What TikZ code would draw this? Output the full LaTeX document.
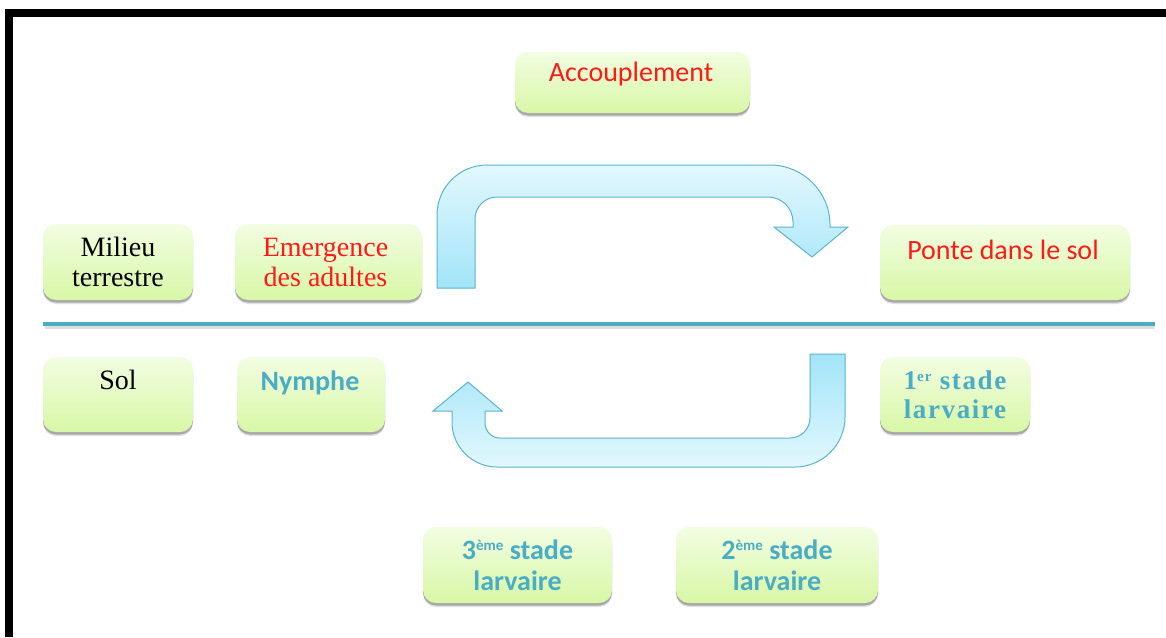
\documentclass[tikz,border=0pt]{standalone}
\usepackage{fontspec}
\setmainfont{Liberation Serif}
\newfontfamily\calfont{Carlito}
\newfontfamily\serfont{Liberation Serif}
\usetikzlibrary{shadows}
\definecolor{boxtop}{HTML}{F2FDE2}
\definecolor{boxbot}{HTML}{D8F7A6}
\definecolor{arrlight}{HTML}{E2F8FD}
\definecolor{arrdark}{HTML}{A2E4F8}
\definecolor{arredge}{HTML}{5AB4CF}
\definecolor{tealtxt}{HTML}{4BACC6}
\definecolor{redtxt}{HTML}{FF1A1A}
\definecolor{sepline}{HTML}{4BACC6}
\tikzset{
  box/.style={rounded corners=13pt, top color=boxtop, bottom color=boxbot, draw=none,
    general shadow={shadow xshift=0pt, shadow yshift=-4pt, opacity=0.12, fill=black},
    drop shadow={shadow xshift=0pt, shadow yshift=-2.5pt, opacity=0.25, fill=black}, inner sep=0pt},
  caltxt/.style={font=\calfont\fontsize{28}{31}\selectfont, align=center, inner sep=0pt},
  calbold/.style={font=\calfont\bfseries\fontsize{28}{31}\selectfont, align=center, inner sep=0pt},
  sertxt/.style={font=\serfont\fontsize{28}{30}\selectfont, align=center, inner sep=0pt},
  serbold/.style={font=\serfont\bfseries\fontsize{27}{29}\selectfont, align=center, inner sep=0pt},
  uarrow/.style={draw=arredge, line width=1pt, line join=miter}
}
\newcommand{\supsc}[1]{\raisebox{0.65ex}{\fontsize{15}{15}\selectfont #1}}
\begin{document}
\begin{tikzpicture}[x=1pt,y=-1pt]
\useasboundingbox (0,0) rectangle (1166,637);
\fill[white] (0,0) rectangle (1166,637);
% frame
\fill[black] (5,9) rectangle (1166,17);
\fill[black] (5,9) rectangle (13,637);

% boxes
\node[box, minimum width=235pt, minimum height=61pt] (acc) at (632.5,82.5) {};
\node[box, minimum width=150pt, minimum height=76pt] (mil) at (118,262) {};
\node[box, minimum width=187pt, minimum height=76pt] (eme) at (328.5,262) {};
\node[box, minimum width=250pt, minimum height=75pt] (pon) at (1005,262.5) {};
\node[box, minimum width=150pt, minimum height=75pt] (sol) at (118,394.5) {};
\node[box, minimum width=148pt, minimum height=75pt] (nym) at (311,394.5) {};
\node[box, minimum width=150pt, minimum height=75pt] (st1) at (955,394.5) {};
\node[box, minimum width=189pt, minimum height=76pt] (st3) at (517.5,565) {};
\node[box, minimum width=202pt, minimum height=76pt] (st2) at (777,565) {};

% texts
\node[caltxt, text=redtxt] (acct) at (631,74) {Accouplement};
\node[sertxt, text=black] (milt) at (mil) {Milieu\\terrestre};
\node[sertxt, text=redtxt] (emet) at ([xshift=-3pt]eme.center) {Emergence\\des adultes};
\node[caltxt, text=redtxt] (pont) at (1003,250) {Ponte dans le sol};
\node[sertxt, text=black] (solt) at (118,380) {Sol};
\node[calbold, text=tealtxt] (nymt) at (310,383) {Nymphe};
\node[serbold, text=tealtxt] (st1t) at (st1) {\addfontfeatures{LetterSpace=6}1\supsc{er} stade\\\addfontfeatures{LetterSpace=6}larvaire};
\node[calbold, text=tealtxt] (st3t) at (st3) {3\supsc{ème} stade\\larvaire};
\node[calbold, text=tealtxt] (st2t) at (st2) {2\supsc{ème} stade\\larvaire};

% separator line
\draw[line width=3pt, black!25, opacity=0.5] (45,327.5) -- (1155,327.5);
\draw[line width=4pt, sepline] (43,324) -- (1155,324);

% upper U-turn arrow
\path[uarrow, top color=arrlight, bottom color=arrdark]
  (437,288) -- (437,215)
  .. controls (437,187.4) and (459.4,165) .. (487,165)
  -- (770,165)
  .. controls (803.1,165) and (830,191.9) .. (830,225)
  -- (830,227) -- (848,227) -- (812,257) -- (774,227) -- (793,227)
  -- (793,222)
  .. controls (793,208.2) and (781.8,197) .. (768,197)
  -- (497,197)
  .. controls (484.9,197) and (475,206.9) .. (475,219)
  -- (475,288) -- cycle;

% lower U-turn arrow
\path[uarrow, top color=arrdark, bottom color=arrlight]
  (810,354) -- (845,354) -- (845,417)
  .. controls (845,444.6) and (822.6,467) .. (795,467)
  -- (497,467)
  .. controls (472.2,467) and (452,446.8) .. (452,422)
  -- (452,411) -- (433,411) -- (468,382) -- (502,411) -- (485,411)
  -- (485,423)
  .. controls (485,431.3) and (491.7,438) .. (500,438)
  -- (790,438)
  .. controls (801,438) and (810,429) .. (810,418)
  -- cycle;
\end{tikzpicture}
\end{document}
